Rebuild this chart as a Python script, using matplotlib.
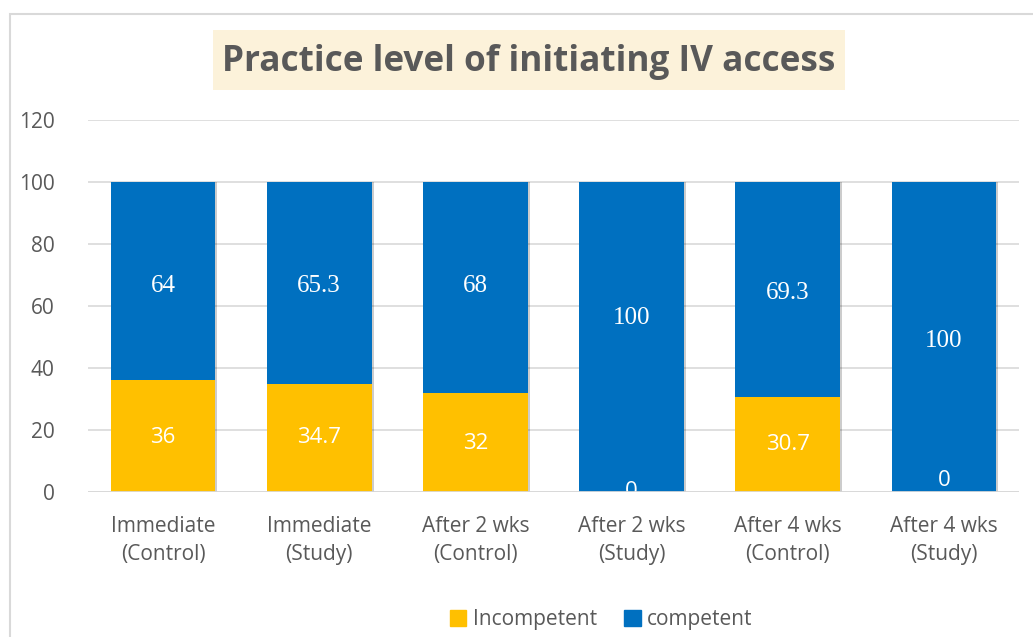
import matplotlib
matplotlib.use("Agg")
import matplotlib.pyplot as plt
import matplotlib.patheffects as pe
from matplotlib.patches import Rectangle, Patch

categories = ["Immediate\n(Control)", "Immediate\n(Study)", "After 2 wks\n(Control)",
              "After 2 wks\n(Study)", "After 4 wks\n(Control)", "After 4 wks\n(Study)"]
incompetent = [36, 34.7, 32, 0, 30.7, 0]
competent = [64, 65.3, 68, 100, 69.3, 100]
inc_labels = ["36", "34.7", "32", "0", "30.7", "0"]
comp_labels = ["64", "65.3", "68", "100", "69.3", "100"]
# label heights as placed in the original chart (manually positioned)
inc_label_y = [17.7, 17.7, 15.8, 0.3, 15.2, 3.6]
comp_label_y = [66.6, 66.6, 66.6, 56.2, 64.2, 48.8]

YELLOW = "#FFC000"
BLUE = "#0070C0"
GREY = "#595959"
SANS = ["Open Sans", "DejaVu Sans"]

fig = plt.figure(figsize=(10.33, 6.37), dpi=100)
fig.patches.append(Rectangle((10 / 1033, -0.05), 1.2, 1 - 14 / 637 + 0.05,
                             transform=fig.transFigure, fill=False,
                             edgecolor="#D9D9D9", linewidth=1.5))

ax = fig.add_axes([88 / 1033, 1 - 492 / 637, 931 / 1033, 372 / 637])
x = range(len(categories))
shadow = [pe.SimplePatchShadow(offset=(1.5, 0), shadow_rgbFace="#000000", alpha=0.2), pe.Normal()]
b1 = ax.bar(x, incompetent, width=0.67, color=YELLOW, zorder=3)
b2 = ax.bar(x, competent, width=0.67, bottom=incompetent, color=BLUE, zorder=3)
for b in list(b1) + list(b2):
    b.set_path_effects(shadow)

for i in x:
    ax.text(i, comp_label_y[i], comp_labels[i], ha="center", va="center",
            color="white", fontsize=18, family="Liberation Serif", zorder=4)
    ax.text(i, inc_label_y[i], inc_labels[i], ha="center", va="center",
            color="white", fontsize=16, family=SANS, zorder=4)

ax.set_ylim(0, 120)
ax.set_xlim(-0.48, 5.48)
ax.set_yticks(range(0, 121, 20))
ax.yaxis.grid(True, color="#D9D9D9", linewidth=1.2, zorder=0)
ax.axhline(0, color="#D9D9D9", linewidth=2, zorder=5)
for s in ax.spines.values():
    s.set_visible(False)
ax.tick_params(length=0, labelsize=15, labelcolor=GREY)
ax.tick_params(axis="y", pad=24)
ax.tick_params(axis="x", pad=17)
ax.set_xticks(list(x))
ax.set_xticklabels(categories, linespacing=1.45)
for lab in ax.get_xticklabels() + ax.get_yticklabels():
    lab.set_family(SANS)

# title with beige box
fig.patches.append(Rectangle((213 / 1033, 1 - 90 / 637), 632 / 1033, 60 / 637,
                             transform=fig.transFigure, facecolor="#FCF2DA",
                             edgecolor="none"))
fig.text(529 / 1033, 1 - 62 / 637, "Practice level of initiating IV access",
         ha="center", va="center", fontsize=25.3, fontweight="bold", color=GREY,
         family=SANS)

handles = [Patch(color=YELLOW, label="Incompetent"), Patch(color=BLUE, label="competent")]
fig.legend(handles=handles, loc="center", bbox_to_anchor=(601 / 1033, 1 - 620 / 637),
           ncol=2, frameon=False, handlelength=0.8, handleheight=0.8,
           handletextpad=0.3, columnspacing=1.3,
           prop={"family": SANS, "size": 15}, labelcolor=GREY)

fig.savefig("out.png", dpi=100)
